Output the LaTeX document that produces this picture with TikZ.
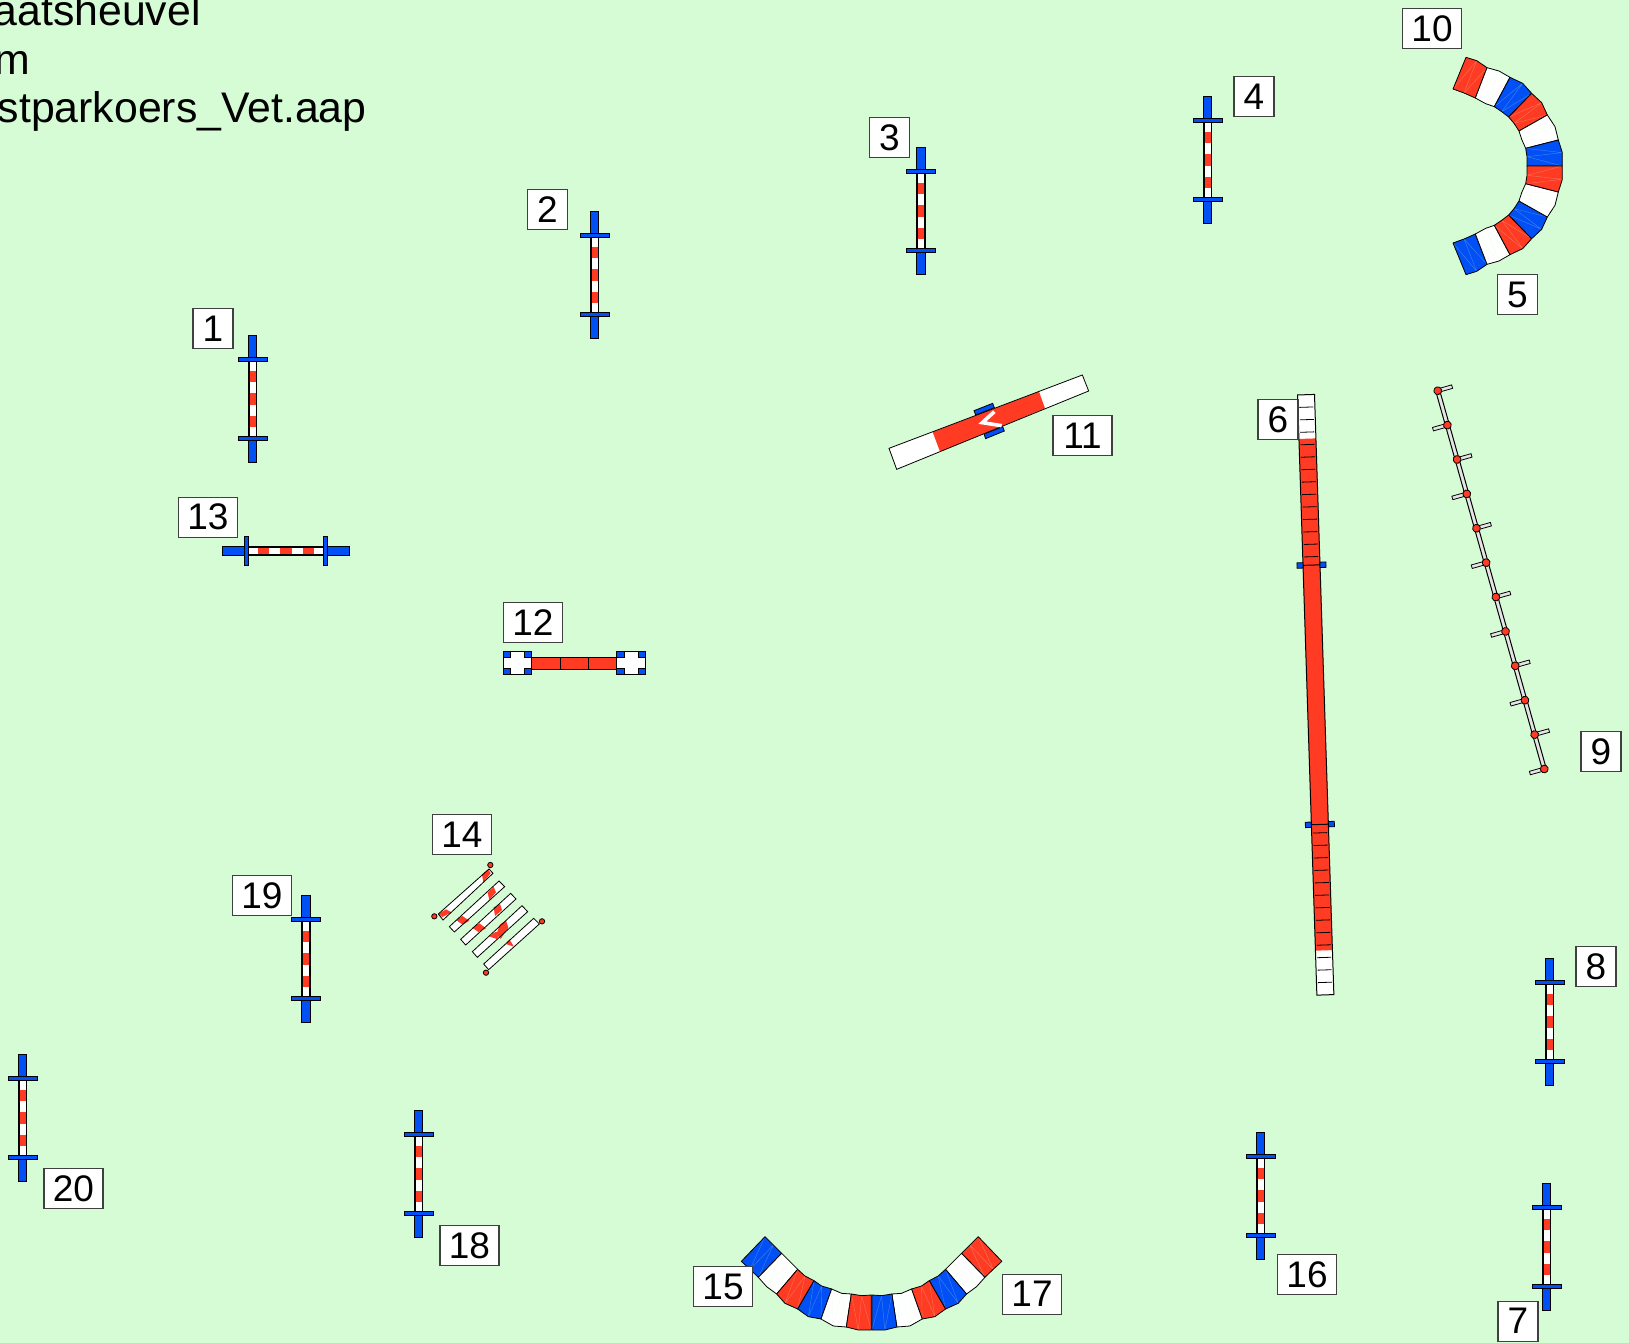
\documentclass[tikz,border=0pt]{standalone}
\usepackage{fontspec}
\setmainfont{Liberation Sans}
\definecolor{bgc}{RGB}{214,252,214}
\definecolor{redc}{RGB}{255,59,35}
\definecolor{bluec}{RGB}{0,80,245}
\tikzset{
  lab/.style={draw=black!75,fill=white,line width=0.6pt,inner sep=0pt,minimum width=20pt,minimum height=20pt,yshift=-0.3pt,font=\fontsize{18.5}{20}\selectfont},
  labw/.style={lab,minimum width=29.5pt},
  head/.style={inner sep=0pt,anchor=base east,font=\fontsize{21.4}{24}\selectfont},
  edge/.style={draw=black,line width=0.5pt},
  thin edge/.style={draw=black,line width=0.4pt}
}
% one bar jump, centred, pole along local v
\newcommand{\barjump}[3]{%
\begin{scope}[shift={(#1+0.5,#2)},rotate=#3]
  \fill[bluec] (-4.4,-63.3) rectangle (4.4,63.3);
  \draw[edge] (-4.4,-63.3) rectangle (4.4,63.3);
  \fill[white] (-3.5,-39.5) rectangle (3.5,39.5);
  \foreach \k in {-1,0,1} \fill[redc] (-3.5,\k*22.6-5.65) rectangle (3.5,\k*22.6+5.65);
  \draw[edge] (-3.5,-39.5) -- (-3.5,39.5) (3.5,-39.5) -- (3.5,39.5);
  \foreach \s in {-39.5,39.5} {
    \fill[bluec] (-14.5,\s-1.6) rectangle (14.5,\s+1.6);
    \draw[edge] (-14.5,\s-1.6) rectangle (14.5,\s+1.6);
  }
\end{scope}}
% one piece of a curved tunnel: inner three points, outer three points
\newcommand{\tseg}[7]{%
  \fill[#1] #2 -- #3 -- #4 -- #5 -- #6 -- #7 -- cycle;
  \draw[bgc,opacity=.3,line width=0.2pt] #2 -- #6 -- #3 -- #5 -- #4;
  \draw[thin edge,line join=round] #2 -- #3 -- #4 -- #5 -- #6 -- #7 -- cycle;}
\newcommand{\halfA}[6]{%
  \tseg{#1}{(219,267)}{(252,279)}{(286,294)}{(321,203)}{(290,182)}{(258,172)}
  \tseg{#2}{(286,294)}{(317,311)}{(343,320)}{(390,232)}{(357,213)}{(321,203)}
  \tseg{#3}{(343,320)}{(365,335)}{(386,351)}{(455,280)}{(428,250)}{(390,232)}
  \tseg{#4}{(386,351)}{(402,370)}{(417,393)}{(502,345)}{(485,308)}{(455,280)}
  \tseg{#5}{(417,393)}{(425,418)}{(437,445)}{(535,420)}{(525,380)}{(502,345)}
  \tseg{#6}{(437,445)}{(441,470)}{(441,498)}{(547,498)}{(547,458)}{(535,420)}}
\newcommand{\halfB}[6]{%
  \tseg{#1}{(105,50)}{(130,75)}{(155,100)}{(85,172)}{(60,148)}{(34,124)}
  \tseg{#2}{(155,100)}{(180,125)}{(203,148)}{(140,222)}{(110,200)}{(85,172)}
  \tseg{#3}{(203,148)}{(225,168)}{(252,182)}{(203,267)}{(165,250)}{(140,222)}
  \tseg{#4}{(252,182)}{(275,198)}{(305,207)}{(273,297)}{(235,290)}{(203,267)}
  \tseg{#5}{(305,207)}{(335,220)}{(364,222)}{(349,321)}{(310,318)}{(273,297)}
  \tseg{#6}{(364,222)}{(395,227)}{(424,225)}{(424,330)}{(385,330)}{(349,321)}}
\begin{document}
\begin{tikzpicture}[x=0.5pt,y=-0.5pt]
\useasboundingbox (0,0) rectangle (1629,1343);
\fill[bgc] (0,0) rectangle (1629,1343);

% heading
\node[head] (h1) at (201,26) {aatsheuvel};
\node[head] (h2) at (31,75) {m};
\node[head] (h3) at (367,123) {stparkoers\_Vet.aap};

% bar jumps
\barjump{252}{399}{0}
\barjump{594}{275}{0}
\barjump{920.5}{211}{0}
\barjump{1207}{160}{0}
\barjump{1546}{1247}{0}
\barjump{1549}{1022}{0}
\barjump{285.5}{551}{90}
\barjump{1260}{1196}{0}
\barjump{418}{1174}{0}
\barjump{305.5}{959}{0}
\barjump{22}{1118}{0}

% tunnel 5-10
\begin{scope}[shift={(1380,0)},scale=1/3]
  \halfA{redc}{white}{bluec}{redc}{white}{bluec}
\end{scope}
\begin{scope}[shift={(1380,332)},xscale=1/3,yscale=-1/3]
  \halfA{bluec}{white}{redc}{bluec}{white}{redc}
\end{scope}

% tunnel 15-17
\begin{scope}[shift={(730,1220)},scale=1/3]
  \halfB{bluec}{white}{redc}{bluec}{white}{redc}
\end{scope}
\begin{scope}[shift={(1013.2,1220)},xscale=-1/3,yscale=1/3]
  \halfB{redc}{white}{bluec}{redc}{white}{bluec}
\end{scope}

% seesaw 11
\begin{scope}[shift={(860,360)},scale=1/3]
  \fill[bluec] (342,152) -- (398,130) -- (403,143) -- (347,165) -- cycle;
  \draw[thin edge] (342,152) -- (398,130) -- (403,143) -- (347,165) -- cycle;
  \fill[bluec] (372,222) -- (428,200) -- (433,213) -- (377,236) -- cycle;
  \draw[thin edge] (372,222) -- (428,200) -- (433,213) -- (377,236) -- cycle;
  \fill[white] (87,265) -- (667,45) -- (686,93) -- (110,328) -- cycle;
  \fill[redc] (218,216) -- (537,95) -- (555,145) -- (240,275) -- cycle;
  \draw[thin edge] (87,265) -- (667,45) -- (686,93) -- (110,328) -- cycle;
  \draw[white,line width=1.8pt] (403,155) -- (367,188) -- (425,197);
\end{scope}

% dog walk 6
\begin{scope}[shift={(1306,394.7)},rotate=1.85]
  \fill[white] (-8.5,0) rectangle (8.5,600.5);
  \fill[redc] (-8.5,44) rectangle (8.5,556);
  \foreach \k in {1,...,13} {
    \draw[thin edge] (-7,\k*12.47) -- (7,\k*12.47);
    \draw[thin edge] (-7,600.5-\k*12.47) -- (7,600.5-\k*12.47);
  }
  \draw[edge] (-8.5,0) rectangle (8.5,600.5);
  \foreach \s in {170.5,430} {
    \fill[bluec] (-14.5,\s-2.7) rectangle (-8.5,\s+2.7);
    \fill[bluec] (8.5,\s-2.7) rectangle (14.5,\s+2.7);
    \draw[thin edge] (-14.5,\s-2.7) rectangle (-8.5,\s+2.7);
    \draw[thin edge] (8.5,\s-2.7) rectangle (14.5,\s+2.7);
    \draw[edge] (-8.5,\s) -- (8.5,\s);
  }
\end{scope}

% weave poles 9
\begin{scope}[shift={(1437.7,390.7)},rotate=15.74]
  \draw[edge,fill=black!10] (-2,0) rectangle (2,393);
  \foreach \k in {0,2,...,10} \draw[thin edge,fill=black!10] (0,\k*35.73-1.8) rectangle (15,\k*35.73+1.8);
  \foreach \k in {1,3,...,11} \draw[thin edge,fill=black!10] (-15,\k*35.73-1.8) rectangle (0,\k*35.73+1.8);
  \foreach \k in {0,...,11} \draw[thin edge,fill=redc] (0,\k*35.73) circle[radius=3.9];
\end{scope}

% table 12
\begin{scope}[shift={(490,640)},scale=1/3]
  \fill[redc] (125,53) rectangle (380,87);
  \draw[edge] (125,53) rectangle (380,87) (211,53) -- (211,87) (296,53) -- (296,87);
  \draw[edge,fill=white] (40,35) rectangle (125,103);
  \draw[edge,fill=white] (380,35) rectangle (467,103);
  \foreach \x in {40,103,380,445} \foreach \y in {35,86} {
    \fill[bluec] (\x,\y) rectangle ++(22,17);
    \draw[thin edge] (\x,\y) rectangle ++(22,17);
  }
\end{scope}

% crossing 14
\begin{scope}[shift={(420,850)},scale=1/3]
  \fill[white] (207,57) -- (219,70) -- (69,210) -- (55,192) -- cycle;
  \fill[white] (237,93) -- (254,110) -- (103,246) -- (88,230) -- cycle;
  \fill[white] (272,130) -- (288,147) -- (137,285) -- (122,268) -- cycle;
  \fill[white] (306,167) -- (323,185) -- (172,322) -- (157,305) -- cycle;
  \fill[white] (341,205) -- (358,222) -- (206,359) -- (191,342) -- cycle;
  \fill[redc] (186,73) -- (205,58) -- (212,70) -- (190,97) -- cycle;
  \fill[redc] (55,192) -- (78,178) -- (95,187) -- (67,201) -- cycle;
  \fill[redc] (203,128) -- (221,111) -- (228,127) -- (208,150) -- cycle;
  \fill[redc] (108,210) -- (127,198) -- (148,212) -- (128,224) -- cycle;
  \fill[redc] (221,172) -- (240,162) -- (246,180) -- (225,198) -- cycle;
  \fill[redc] (157,233) -- (178,220) -- (198,235) -- (175,246) -- cycle;
  \fill[redc] (240,223) -- (258,212) -- (265,233) -- (242,267) -- (232,245) -- cycle;
  \fill[redc] (208,259) -- (228,245) -- (243,250) -- (230,267) -- cycle;
  \fill[redc] (258,282) -- (268,268) -- (282,290) -- cycle;
  \draw[thin edge] (207,57) -- (219,70) -- (69,210) -- (55,192) -- cycle;
  \draw[thin edge] (237,93) -- (254,110) -- (103,246) -- (88,230) -- cycle;
  \draw[thin edge] (272,130) -- (288,147) -- (137,285) -- (122,268) -- cycle;
  \draw[thin edge] (306,167) -- (323,185) -- (172,322) -- (157,305) -- cycle;
  \draw[thin edge] (341,205) -- (358,222) -- (206,359) -- (191,342) -- cycle;
  \foreach \p in {(211,45),(43,199),(366,214),(198,368)}
    \draw[thin edge,fill=redc] \p circle[radius=8];
\end{scope}

% labels
\node[lab] (n1) at (213,328) {1};
\node[lab] (n2) at (547.5,209) {2};
\node[lab] (n3) at (889.5,137) {3};
\node[lab] (n4) at (1254,96) {4};
\node[lab] (n5) at (1517.5,294) {5};
\node[lab] (n6) at (1278,419) {6};
\node[lab] (n7) at (1518,1320.5) {7};
\node[lab] (n8) at (1596,966) {8};
\node[lab] (n9) at (1601,751) {9};
\node[labw] (n10) at (1432,28) {10};
\node[labw] (n11) at (1082.5,435) {11};
\node[labw] (n12) at (533,622) {12};
\node[labw] (n13) at (208,516.5) {13};
\node[labw] (n14) at (462,834) {14};
\node[labw] (n15) at (723,1286) {15};
\node[labw] (n16) at (1307,1274) {16};
\node[labw] (n17) at (1032,1293.5) {17};
\node[labw] (n18) at (469.5,1245) {18};
\node[labw] (n19) at (262,895) {19};
\node[labw] (n20) at (73.5,1188) {20};
\end{tikzpicture}
\end{document}
